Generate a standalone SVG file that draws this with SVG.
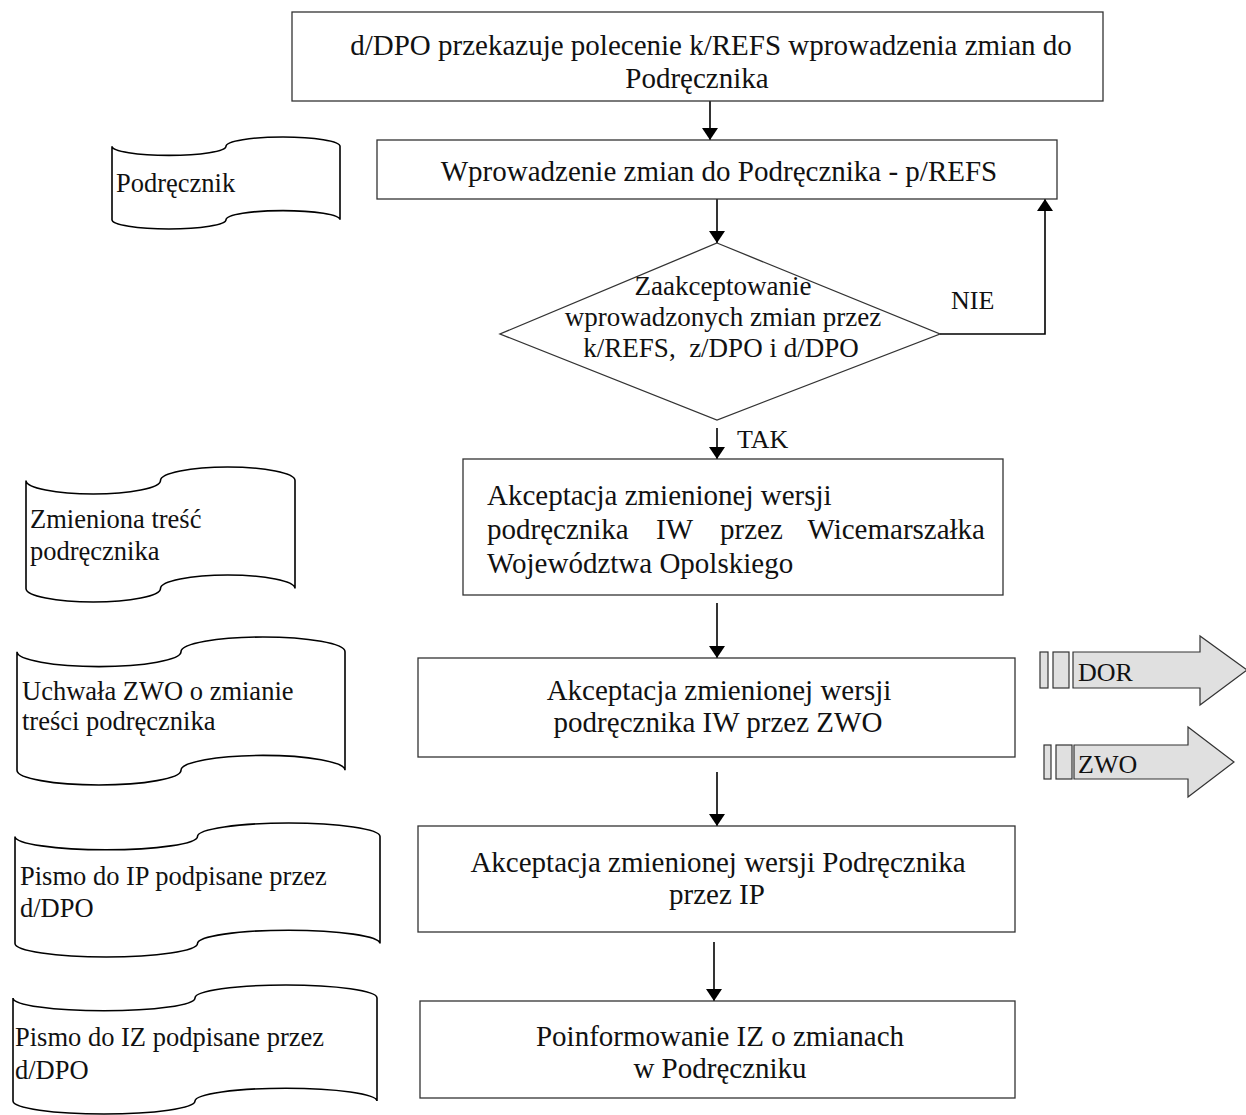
<svg xmlns="http://www.w3.org/2000/svg" width="1246" height="1115" viewBox="0 0 1246 1115">
  <defs>
    <marker id="ah" markerWidth="12" markerHeight="16" refX="12" refY="8" orient="auto" markerUnits="userSpaceOnUse" viewBox="0 0 12 16">
      <path d="M0,0 L12,8 L0,16 Z" fill="#000"/>
    </marker>
    <style>
      .box { fill: #fff; stroke: #333; stroke-width: 1.3; }
      .doc { fill: #fff; stroke: #000; stroke-width: 1.6; }
      .blk { fill: #e0e0e0; stroke: #333; stroke-width: 1.2; }
      .edge { fill: none; stroke: #000; stroke-width: 1.6; marker-end: url(#ah); }
      text { font-family: "Liberation Serif", "Times New Roman", serif; fill: #111; }
      .t { font-size: 29px; }
      .c { text-anchor: middle; }
      .e { text-anchor: end; }
      .d { font-size: 26.5px; }
      .q { font-size: 27px; }
      .l { font-size: 26px; }
    </style>
  </defs>
  <rect width="1246" height="1115" fill="#fff"/>

  <!-- connectors -->
  <g id="connectors">
    <line class="edge" x1="710" y1="101" x2="710" y2="140"/>
    <line class="edge" x1="717" y1="199" x2="717" y2="243"/>
    <polyline class="edge" points="940,334 1045,334 1045,199"/>
    <line class="edge" x1="717" y1="428" x2="717" y2="459"/>
    <line class="edge" x1="717" y1="603" x2="717" y2="658"/>
    <line class="edge" x1="717" y1="772" x2="717" y2="826"/>
    <line class="edge" x1="714" y1="942" x2="714" y2="1001"/>
    <text class="l" x="951" y="309">NIE</text>
    <text class="l" x="737" y="448">TAK</text>
  </g>

  <!-- process steps -->
  <g id="step-polecenie">
    <rect class="box" x="292" y="12" width="811" height="89"/>
    <text class="t c" x="711" y="55">d/DPO przekazuje polecenie k/REFS wprowadzenia zmian do</text>
    <text class="t c" x="697" y="88">Podręcznika</text>
  </g>
  <g id="step-wprowadzenie">
    <rect class="box" x="377" y="140" width="680" height="59"/>
    <text class="t c" x="719" y="181">Wprowadzenie zmian do Podręcznika - p/REFS</text>
  </g>
  <g id="decision">
    <polygon class="box" points="717,243 940,334 717,420 500,334"/>
    <text class="q c" x="723" y="295">Zaakceptowanie</text>
    <text class="q c" x="723" y="326">wprowadzonych zmian przez</text>
    <text class="q c" x="721" y="357" xml:space="preserve">k/REFS,  z/DPO i d/DPO</text>
  </g>
  <g id="step-wicemarszalek">
    <rect class="box" x="463" y="459" width="540" height="136"/>
    <text class="t" x="487" y="505">Akceptacja zmienionej wersji</text>
    <!-- justified line: words placed individually -->
    <text class="t" y="539"><tspan x="487">podręcznika</tspan><tspan x="656">IW</tspan><tspan x="720">przez</tspan></text>
    <text class="t e" x="985" y="539">Wicemarszałka</text>
    <text class="t" x="487" y="573">Województwa Opolskiego</text>
  </g>
  <g id="step-zwo">
    <rect class="box" x="418" y="658" width="597" height="99"/>
    <text class="t c" x="719" y="700">Akceptacja zmienionej wersji</text>
    <text class="t c" x="718" y="732">podręcznika IW przez ZWO</text>
  </g>
  <g id="step-ip">
    <rect class="box" x="418" y="826" width="597" height="106"/>
    <text class="t c" x="718" y="872">Akceptacja zmienionej wersji Podręcznika</text>
    <text class="t c" x="717" y="904">przez IP</text>
  </g>
  <g id="step-iz">
    <rect class="box" x="420" y="1001" width="595" height="97"/>
    <text class="t c" x="720" y="1046">Poinformowanie IZ o zmianach</text>
    <text class="t c" x="720" y="1078">w Podręczniku</text>
  </g>

  <!-- documents (punched-tape outline) -->
  <g id="doc-podrecznik">
    <path class="doc" d="M112,146.2 A57,9.2 0 0 0 226,146.2 A57,9.2 0 0 1 340,146.2 L340,219.8 A57,9.2 0 0 0 226,219.8 A57,9.2 0 0 1 112,219.8 Z"/>
    <text class="d" x="116" y="192">Podręcznik</text>
  </g>
  <g id="doc-tresc">
    <path class="doc" d="M26,480.5 A67.25,13.5 0 0 0 160.5,480.5 A67.25,13.5 0 0 1 295,480.5 L295,588.5 A67.25,13.5 0 0 0 160.5,588.5 A67.25,13.5 0 0 1 26,588.5 Z"/>
    <text class="d" x="30" y="528">Zmieniona treść</text>
    <text class="d" x="30" y="560">podręcznika</text>
  </g>
  <g id="doc-uchwala">
    <path class="doc" d="M17,651.8 A82,14.8 0 0 0 181,651.8 A82,14.8 0 0 1 345,651.8 L345,770.2 A82,14.8 0 0 0 181,770.2 A82,14.8 0 0 1 17,770.2 Z"/>
    <text class="d" x="22" y="700">Uchwała ZWO o zmianie</text>
    <text class="d" x="22" y="730">treści podręcznika</text>
  </g>
  <g id="doc-pismo-ip">
    <path class="doc" d="M15,836.4 A91.25,13.4 0 0 0 197.5,836.4 A91.25,13.4 0 0 1 380,836.4 L380,943.6 A91.25,13.4 0 0 0 197.5,943.6 A91.25,13.4 0 0 1 15,943.6 Z"/>
    <text class="d" x="20" y="885">Pismo do IP podpisane przez</text>
    <text class="d" x="20" y="917">d/DPO</text>
  </g>
  <g id="doc-pismo-iz">
    <path class="doc" d="M13,997.9 A91,12.9 0 0 0 195,997.9 A91,12.9 0 0 1 377,997.9 L377,1101.1 A91,12.9 0 0 0 195,1101.1 A91,12.9 0 0 1 13,1101.1 Z"/>
    <text class="d" x="15" y="1046">Pismo do IZ podpisane przez</text>
    <text class="d" x="15" y="1079">d/DPO</text>
  </g>

  <!-- outgoing block arrows -->
  <g id="out-dor">
    <rect class="blk" x="1040" y="652" width="8" height="36"/>
    <rect class="blk" x="1053" y="652" width="16" height="36"/>
    <polygon class="blk" points="1073,652 1200,652 1200,636 1247,670 1200,705 1200,688 1073,688"/>
    <text class="l" x="1078" y="681">DOR</text>
  </g>
  <g id="out-zwo">
    <rect class="blk" x="1044" y="745" width="7" height="34"/>
    <rect class="blk" x="1056" y="745" width="16" height="34"/>
    <polygon class="blk" points="1074,745 1188,745 1188,727 1234,762 1188,797 1188,779 1074,779"/>
    <text class="l" x="1078" y="773">ZWO</text>
  </g>
</svg>
